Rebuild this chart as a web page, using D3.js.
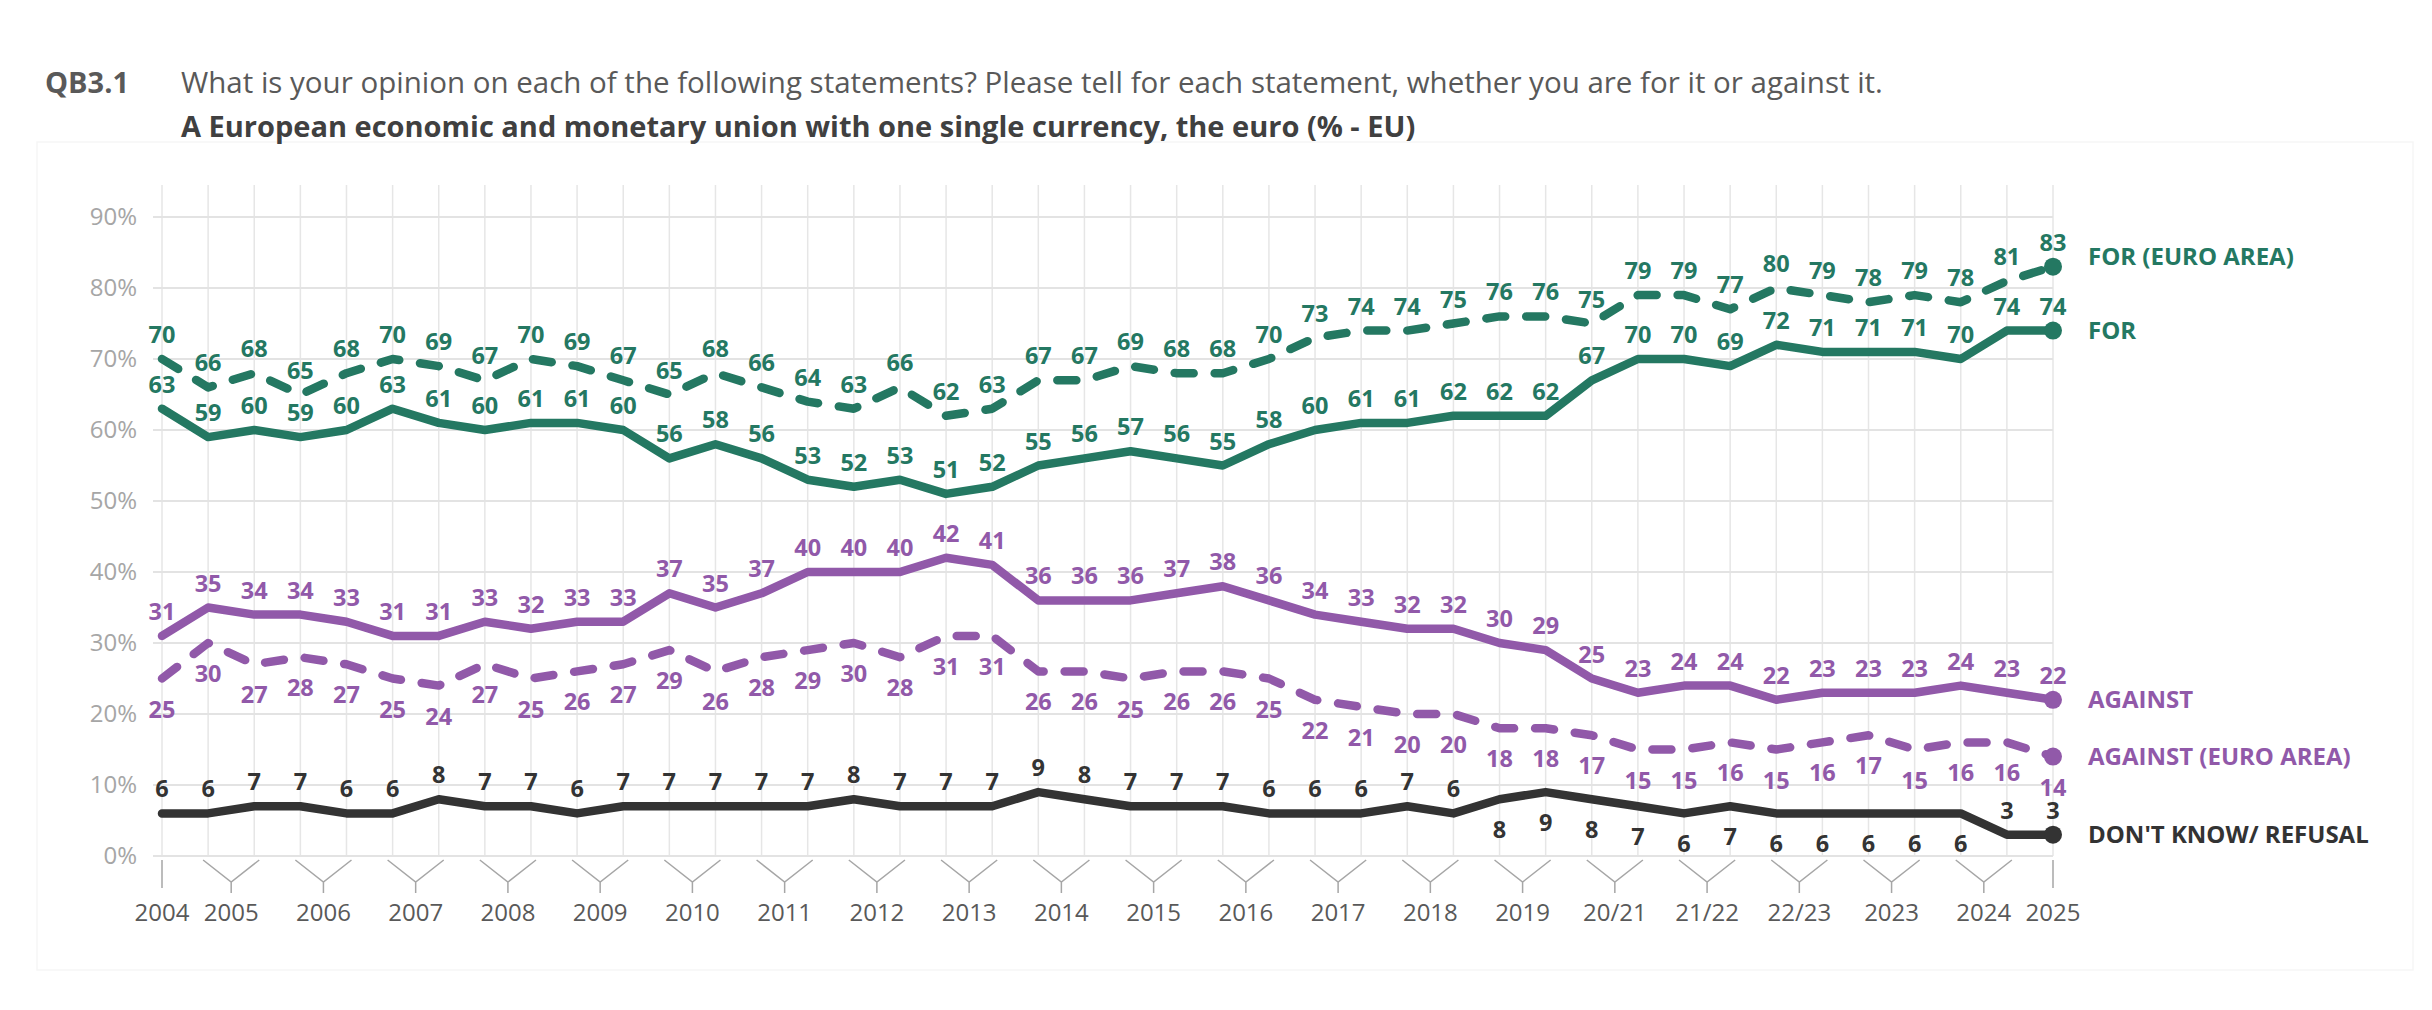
<!DOCTYPE html>
<html>
<head>
<meta charset="utf-8">
<script src="https://cdn.jsdelivr.net/npm/d3@7"></script>
<style>
  body { margin: 0; background: #fff; }
  text { font-family: "Open Sans", "Noto Sans", sans-serif; }
</style>
</head>
<body>
<svg id="chart"></svg>
<script>
// tick labels and how many survey waves sit under each one
const tickLabels = ['2004', '2005', '2006', '2007', '2008', '2009', '2010', '2011', '2012', '2013', '2014',
    '2015', '2016', '2017', '2018', '2019', '20/21', '21/22', '22/23', '2023', '2024', '2025'];
const wavesPerTick = [1, 2, 2, 2, 2, 2, 2, 2, 2, 2, 2, 2, 2, 2, 2, 2, 2, 2, 2, 2, 2, 1];

const forEuroArea = [70, 66, 68, 65, 68, 70, 69, 67, 70, 69, 67, 65, 68, 66, 64, 63, 66, 62, 63, 67, 67,
    69, 68, 68, 70, 73, 74, 74, 75, 76, 76, 75, 79, 79, 77, 80, 79, 78, 79, 78, 81, 83];
const forEU = [63, 59, 60, 59, 60, 63, 61, 60, 61, 61, 60, 56, 58, 56, 53, 52, 53, 51, 52, 55, 56,
    57, 56, 55, 58, 60, 61, 61, 62, 62, 62, 67, 70, 70, 69, 72, 71, 71, 71, 70, 74, 74];
const againstEU = [31, 35, 34, 34, 33, 31, 31, 33, 32, 33, 33, 37, 35, 37, 40, 40, 40, 42, 41, 36, 36,
    36, 37, 38, 36, 34, 33, 32, 32, 30, 29, 25, 23, 24, 24, 22, 23, 23, 23, 24, 23, 22];
const againstEuroArea = [25, 30, 27, 28, 27, 25, 24, 27, 25, 26, 27, 29, 26, 28, 29, 30, 28, 31, 31, 26, 26,
    25, 26, 26, 25, 22, 21, 20, 20, 18, 18, 17, 15, 15, 16, 15, 16, 17, 15, 16, 16, 14];
const dontKnow = [6, 6, 7, 7, 6, 6, 8, 7, 7, 6, 7, 7, 7, 7, 7, 8, 7, 7, 7, 9, 8,
    7, 7, 7, 6, 6, 6, 7, 6, 8, 9, 8, 7, 6, 7, 6, 6, 6, 6, 6, 3, 3];

const yTicks = [0, 10, 20, 30, 40, 50, 60, 70, 80, 90];

const width = 2432, height = 1010;
const green = '#247862', purple = '#9159a9', dark = '#333333';

// one id per wave: 2004, 2005#0, 2005#1 ...
const waves = [];
tickLabels.forEach((t, i) => {
    for (let k = 0; k < wavesPerTick[i]; k++) waves.push(t + '#' + k);
});

const series = [
    { name: 'FOR (EURO AREA)', values: forEuroArea, color: green, dashed: true, side: () => 'above', legendDy: -10 },
    { name: 'FOR', values: forEU, color: green, dashed: false, side: () => 'above', legendDy: 0 },
    { name: 'AGAINST', values: againstEU, color: purple, dashed: false, side: () => 'above', legendDy: 0 },
    { name: 'AGAINST (EURO AREA)', values: againstEuroArea, color: purple, dashed: true, side: () => 'below', legendDy: 0 },
    { name: "DON'T KNOW/ REFUSAL", values: dontKnow, color: dark, dashed: false,
      side: i => (i >= 29 && i <= 39) ? 'below' : 'above', legendDy: 0 }
];

const svg = d3.select('#chart')
    .attr('width', width)
    .attr('height', height);

const x = d3.scalePoint().domain(waves).range([162, 2053]);
const y = d3.scaleLinear().domain([0, 90]).range([856, 217]);

// very faint frame round the chart
svg.append('rect')
    .attr('x', 37).attr('y', 142)
    .attr('width', 2376).attr('height', 828)
    .attr('fill', 'none')
    .attr('stroke', '#f6f6f6')
    .attr('stroke-width', 1.5);

// titles
svg.append('text')
    .attr('x', 45).attr('y', 93)
    .attr('font-size', 29).attr('font-weight', 700)
    .attr('fill', '#595959')
    .text('QB3.1');

svg.append('text')
    .attr('x', 181).attr('y', 93)
    .attr('font-size', 29.5)
    .attr('fill', '#595959')
    .text('What is your opinion on each of the following statements? Please tell for each statement, whether you are for it or against it.');

svg.append('text')
    .attr('x', 181).attr('y', 137)
    .attr('font-size', 29)
    .attr('font-weight', 700)
    .attr('fill', '#404040')
    .text('A European economic and monetary union with one single currency, the euro (% - EU)');

// grid
svg.append('g')
    .selectAll('line')
    .data(waves)
    .join('line')
    .attr('x1', d => x(d)).attr('x2', d => x(d))
    .attr('y1', 185).attr('y2', y(0))
    .attr('stroke', '#e6e6e6')
    .attr('stroke-width', 1.5);

svg.append('g')
    .selectAll('line')
    .data(yTicks)
    .join('line')
    .attr('x1', 153).attr('x2', x.range()[1])
    .attr('y1', d => y(d)).attr('y2', d => y(d))
    .attr('stroke', '#e3e3e3')
    .attr('stroke-width', 2);

// y axis labels
const yAxis = svg.append('g')
    .attr('transform', 'translate(137,0)')
    .call(d3.axisLeft(y).tickValues(yTicks).tickFormat(d => d + '%').tickSize(0).tickPadding(0));
yAxis.select('.domain').remove();
yAxis.selectAll('text')
    .attr('font-size', 24)
    .attr('font-family', '"Open Sans", sans-serif')
    .attr('fill', '#a6a6a6');

// x axis: single ticks and Y-shaped brackets for two-wave years
const xAxis = svg.append('g');
let w = 0;
tickLabels.forEach((t, i) => {
    const n = wavesPerTick[i];
    const x1 = x(waves[w]);
    const x2 = x(waves[w + n - 1]);
    const mid = (x1 + x2) / 2;
    if (n === 1) {
        xAxis.append('line')
            .attr('x1', mid).attr('x2', mid)
            .attr('y1', 860).attr('y2', 888);
    } else {
        xAxis.append('path')
            .attr('d', `M${x1 - 5},860 L${mid},882 L${x2 + 5},860 M${mid},882 L${mid},893`);
    }
    xAxis.append('text')
        .attr('x', mid).attr('y', 921)
        .attr('text-anchor', 'middle')
        .attr('font-size', 24)
        .attr('fill', '#595959')
        .text(t);
    w += n;
});
xAxis.selectAll('line, path')
    .attr('fill', 'none')
    .attr('stroke', '#a6a6a6')
    .attr('stroke-width', 1.5);

// lines
const line = d3.line()
    .x((d, i) => x(waves[i]))
    .y(d => y(d));

series.forEach(s => {
    const g = svg.append('g');

    g.append('path')
        .datum(s.values)
        .attr('d', line)
        .attr('fill', 'none')
        .attr('stroke', s.color)
        .attr('stroke-width', 8.5)
        .attr('stroke-linejoin', 'round')
        .attr('stroke-linecap', 'round')
        .attr('stroke-dasharray', s.dashed ? '19,21' : null);

    const last = s.values.length - 1;
    g.append('circle')
        .attr('cx', x(waves[last]))
        .attr('cy', y(s.values[last]))
        .attr('r', 9)
        .attr('fill', s.color);

    g.selectAll('text.val')
        .data(s.values)
        .join('text')
        .attr('class', 'val')
        .attr('x', (d, i) => x(waves[i]))
        .attr('y', (d, i) => s.side(i) === 'above' ? y(d) - 16 : y(d) + 39)
        .attr('text-anchor', 'middle')
        .attr('font-size', 23.5)
        .attr('font-weight', 700)
        .attr('fill', s.color)
        .text(d => d);

    g.append('text')
        .attr('x', 2088)
        .attr('y', y(s.values[last]) + s.legendDy)
        .attr('dy', '0.35em')
        .attr('font-size', 24)
        .attr('font-weight', 700)
        .attr('fill', s.color)
        .text(s.name);
});
</script>
</body>
</html>
